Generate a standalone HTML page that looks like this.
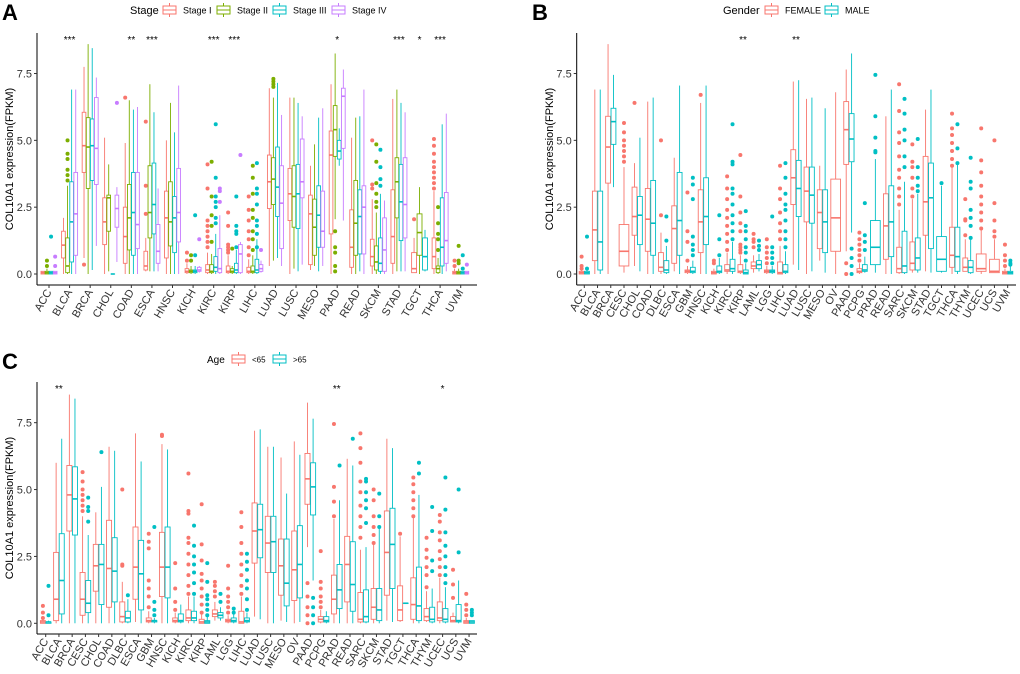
<!DOCTYPE html>
<html><head><meta charset="utf-8"><style>
html,body{margin:0;padding:0;background:#fff}
svg{display:block;font-family:"Liberation Sans",sans-serif}
</style></head><body>
<svg id="c" width="1020" height="674" viewBox="0 0 1020 674"></svg>
<script>
// ---------- Panel A data (Stage) ----------
const catsA=["ACC","BLCA","BRCA","CHOL","COAD","ESCA","HNSC","KICH","KIRC","KIRP","LIHC","LUAD","LUSC","MESO","PAAD","READ","SKCM","STAD","TGCT","THCA","UVM"];
const stageI=[[0,0,.05,.1,.1],[0,.6,1.08,1.6,2.1],[.6,3.8,4.8,6.05,7.75],[0,1.1,1.95,2.85,5.1],[0,.4,1.4,2.5,4.9],[.1,.15,.3,.85,1.35],[0,.6,2.1,3.1,5],[0,.05,.1,.2,.4],[0,.05,.15,.35,.8],[0,.05,.1,.3,.7],[0,.05,.1,.25,.55],[.3,2.45,3.45,4.45,6.95],[0,2,3,3.95,6.6],[.15,.35,2.25,2.95,4.05],[0,1.5,4.45,5.35,7.1],[0,.25,1,2.4,5.1],[0,.3,.65,1.3,2.8],[0,.4,1.4,3.15,6.55],[.05,.05,.2,.8,1.35],[0,.2,.65,1.35,3.1],[0,0,.05,.1,.2]];
const stageII=[[0,0,.05,.1,.2],[0,.05,.3,1.35,3.3],[0,3.2,4.75,5.85,8.6],[.1,1.6,2.85,2.95,4.1],[0,.9,2.1,3.35,6.5],[.1,1.35,2.3,4.05,7.1],[0,1.05,1.95,3.45,6.4],[0,.05,.1,.15,.3],[0,.05,.1,.35,.75],[0,.05,.1,.2,.3],[0,.05,.1,.3,.7],[.5,2.6,3.55,4.35,6.6],[.2,1.75,2.9,4.05,6.6],[.3,.7,1.75,2.8,4.85],[2.05,4.4,5.4,6.3,8.25],[0,.7,1.9,3.5,5.85],[0,.15,.45,1.05,2.3],[.1,2.1,3.45,4.35,6.9],[0,.7,1.55,2.25,3.25],[0,.05,.2,.3,.6],[0,0,.05,.1,.2]];
const stageIII=[[0,0,.05,.1,.1],[0,.45,1.95,3.45,6.9],[.15,3.5,4.8,5.8,8.45],[0,0,0,0,0],[0,.7,2.3,3.8,6.15],[.1,1.5,2.6,4.15,6.05],[0,.8,2.1,2.9,5.3],[0,.05,.1,.15,.3],[0,.1,.25,.65,1.5],[0,.05,.15,.4,.9],[0,.05,.15,.55,1.3],[.6,2.15,3.25,4.75,7.15],[.1,1.7,3,4.1,6.4],[.1,1,2.2,3.3,5.85],[4.05,4.3,4.6,5,5.45],[.1,.75,2.15,3.15,5.9],[0,.1,.4,1.35,3],[.1,1.25,2.7,4.1,6.4],[.1,.15,.65,1.35,1.65],[0,.3,1,2.85,5.6],[0,0,.05,.1,.1]];
const stageIV=[[0,0,.05,.1,.1],[0,.7,2.25,3.8,6.9],[1.05,3.35,4.7,6.6,7.35],[.45,1.75,2.45,2.95,3.25],[0,.95,1.85,3.8,6.25],[.1,.4,.85,1.85,3.2],[0,1.2,2.3,3.95,7.05],[.05,.1,.15,.25,.3],[0,.05,.2,.95,2.2],[0,.05,.75,1.1,1.2],[.05,.1,.2,.35,.5],[.3,.95,2.65,4.05,5.95],[.35,2.85,3.45,5.05,5.9],[.3,1,1.6,3.1,6.2],[2,4.7,6.65,6.95,7.65],[0,.75,2.5,3.3,6.9],[0,.1,.9,2.1,2.75],[.1,1.35,2.6,4.35,6.05],null,[.1,.4,1.25,3.05,6],[0,0,.05,.1,.1]];
const outI=[[],[],[.35],[],[6.6],[2.25,3.3,5.7],[],[.5,.8],[1,1.2,1.4,1.6,1.8,2,3.2,4.1],[.8,.9,1,1.1,1.8,2.3],[.7,1,1.3,1.6,2,2.4,2.9],[],[],[],[],[],[3.2,3.35,5],[],[2.05],[3.2,3.4,3.6,3.8,4,4.2,4.5,4.8,5.05],[.3,.5]];
const outII=[[.3,.5],[3.5,3.7,3.9,4.3,4.5,5],[],[],[],[],[],[.5,.7],[1.2,1.8,2.2,2.9,4.2],[.95],[.9,1.3,1.6,2.1,2.4,3,3.6,4.05],[7,7.1,7.2,7.3],[],[],[.1,.3,.8,1,1.6],[],[2.5,2.7,3,3.4,4.2,4.85],[],[],[.9,1.3,1.5,1.9,2.5],[.4,.5,1.05]];
const outIII=[[1.4],[],[],[],[],[],[],[.7,2.2],[1.9,2.1,2.5,2.7,2.9,3.6,5.6],[1,1.5,1.6,1.8,2.9],[1,1.5,1.8,2,2.6,3,3.2,4.15],[],[],[],[],[],[3.3,3.55,4,4.65],[],[],[],[.2,.7]];
const outIV=[[.3,.65],[],[],[6.4],[],[],[],[1.3],[2.7,3.1,3.2],[4.45],[.9],[],[],[],[],[],[],[],[],[],[.35]];
const sigA=["","***","","","**","***","","","***","***","","","","","*","","","***","*","***",""];

// ---------- Panel B data (Gender) ----------
const catsB=["ACC","BLCA","BRCA","CESC","CHOL","COAD","DLBC","ESCA","GBM","HNSC","KICH","KIRC","KIRP","LAML","LGG","LIHC","LUAD","LUSC","MESO","OV","PAAD","PCPG","PRAD","READ","SARC","SKCM","STAD","TGCT","THCA","THYM","UCEC","UCS","UVM"];
const female=[[0,0,.05,.1,.15],[0,.5,1.65,3.1,6.9],[0,3.4,4.75,5.9,8.6],[.05,.3,.85,1.85,4],[.3,1.45,2.15,3.25,4.15],[0,.85,2.05,3.2,6.45],[0,.1,.25,.8,1.55],[.1,.4,1.7,2.55,4.35],[0,.05,.1,.15,.3],[0,.8,1.95,3.15,6.4],[0,0,.05,.1,.2],[0,.1,.15,.35,.8],[0,.05,.1,.35,.7],[.05,.2,.3,.45,.7],[0,.05,.1,.15,.3],[0,0,.05,.45,1.05],[.35,2.6,3.6,4.65,7.2],[0,1.95,3.1,4,6.55],[.5,.95,2.3,3.15,4.05],[0,.85,2.1,3.55,6.8],[.85,4.1,5.4,6.45,7.65],[0,.05,.1,.2,.4],null,[0,.55,1.8,3,5.9],[0,.05,.2,1,2.4],[.05,.15,.4,1.2,2.8],[.1,1.45,2.7,4.4,6.15],null,[0,.25,.7,1.75,4],[.1,.1,.25,.6,1.3],[0,.1,.2,.75,1.65],[.05,.05,.1,.55,1.3],[0,0,.05,.1,.2]];
const male=[[0,0,.05,.1,.15],[0,.15,1.2,3.1,6.9],[3.25,4.85,5.7,6.2,7.45],null,[.1,1.1,2.2,2.9,5.1],[0,.7,1.9,3.5,6.6],[0,.05,.15,.5,1.05],[0,.7,2,3.8,7.05],[0,.05,.1,.25,.5],[0,1.1,2.15,3.6,7.05],[0,.05,.1,.3,.6],[0,.1,.2,.55,1.2],[0,0,.05,.15,.4],[.1,.2,.35,.5,.75],[0,.05,.1,.15,.3],[0,.05,.1,.35,.85],[.15,2.15,3.2,4.25,7.25],[.1,1.9,2.95,4,6.6],[.05,.8,1.95,3.15,6.2],null,[1.55,4.2,5.05,6,8.25],[.05,.1,.15,.35,.65],[.05,.35,1,2,4.3],[0,.65,1.95,3.3,6.9],[0,.05,.3,1.6,3.45],[.05,.15,.6,1.35,3],[.05,.95,2.85,4.15,6.9],[.05,.1,.55,1.4,3.3],[0,.1,.65,1.75,4.1],[0,.05,.25,.5,1.3],null,null,[0,0,.05,.1,.3]];
const outF=[[.2,.3,.65],[],[],[4.2,4.4,4.6,4.8,5,5.3,5.65],[6.4],[],[2.2,5],[],[.5,1.2,1.6,3.05],[6.7],[.4,.5],[.9,1.2,1.5,1.8,2.1,2.4,2.8,3.2,3.65],[.8,.9,1,1.1,1.6,1.9,2.3,2.9,4.45],[1,1.2,1.3,1.5],[.4,.6,.8,1,1.3],[1.3,1.6,1.9,2.3,2.8,3.2,4.05],[],[],[],[],[0,.4],[.5,.7,.9,1.1,1.3,1.55],[],[],[2.6,2.9,3.2,3.6,3.9,4.4,4.9,5.3,6.1,7.1],[2.9,3.2,3.6,4,4.2,4.85],[],[],[4.05,4.3,4.6,4.9,5.2,5.45,6],[1.45,2,2.05,2.8],[1.7,2,2.3,2.6,2.9,3.3,3.8,4.25,5.45],[1.4,1.6,2,2.65,5],[.3,.5,.7,1.1]];
const outM=[[.2,1.4],[],[],[],[],[],[1.25,2.15],[],[.7,.9,1.1,1.4,2.8,3.35,3.6],[],[.7,1.3,2.2],[1.3,1.6,1.9,2.2,2.6,3,3.2,4.1,4.2,5.6],[.5,.8,1,1.3,1.6,1.8,2.35],[.9,1.05,1.25],[.4,.6,.8,1,2.15],[1,1.3,1.6,2,2.4,2.6,3,3.6,4.15],[],[],[],[],[0,.3,.6,.95],[.9,1.2,1.45,2.65],[4.55,4.6,5.1,5.9,7.45],[],[4,4.4,5,5.4,6,6.55],[3.1,3.3,3.6,4,5.05],[],[3.4],[4.15,4.7,5.6],[1.35,1.8,2.1,2.4,3.2,3.45,4.35],[],[],[.35,.4,.5]];
const sigB=catsB.map(c=>(c==="KIRP"||c==="LUAD")?"**":"");

// ---------- Panel C data (Age) ----------
const catsC=catsB;
const young=[[0,0,.05,.1,.15],[0,.1,.9,2.65,6],[0,3.45,4.8,5.9,8.55],[0,.3,.9,1.9,4],[0,1.2,2.15,2.95,4.15],[0,.6,2.05,3.85,6.6],[0,.05,.25,.8,1.55],[.05,.9,2.1,3.6,7.1],[0,.05,.1,.2,.45],[0,1,2.1,3.4,6.7],[0,.05,.1,.2,.4],[0,.1,.2,.5,1],[0,0,.05,.15,.35],[.1,.25,.35,.5,.8],[0,.05,.1,.15,.3],[0,0,.05,.45,1],[.25,2.25,3.45,4.5,7.2],[0,1.9,3,4,6.6],[.1,1.05,2.15,3.15,6.2],[0,.85,2,3.45,6.8],[2.85,4.45,5.4,6.35,8.25],[0,.05,.15,.25,.5],[0,.35,.9,1.8,3.9],[0,.8,2.2,3.25,6.15],[0,.05,.15,1.15,2.75],[0,.15,.6,1.3,2.95],[.1,1.05,2.65,4.2,6.9],[.05,.1,.5,1.4,3.25],[0,.15,.7,1.7,3.95],[.05,.1,.25,.55,1.2],[0,.1,.2,.8,1.7],[.05,.05,.1,.25,.4],[0,0,.05,.1,.2]];
const old=[[0,0,.05,.05,.1],[0,.35,1.6,3.35,6.9],[0,3.3,4.65,5.85,8.4],[0,.4,.75,1.6,3.3],[0,.7,2.2,2.95,5.1],[0,.8,1.95,3.2,6.45],[0,.05,.2,.45,.9],[0,.5,1.85,3.1,6.05],[0,.05,.1,.1,.2],[0,.95,2.1,3.6,6.5],[0,.05,.1,.35,.7],[0,.1,.2,.45,1],[0,0,.05,.1,.25],[.1,.2,.3,.4,.6],[0,.05,.1,.2,.35],[0,.05,.1,.2,.4],[.15,2.45,3.5,4.45,7.25],[0,1.9,3.05,4,6.6],[.05,.65,1.5,3.15,4.85],[.05,.95,2.2,3.65,6.3],[1.6,4.05,5.1,6,7.65],[0,.05,.1,.25,.45],[0,.55,1.25,2.2,4.6],[0,.45,1.45,3.05,5.9],[0,.05,.25,1.25,2.85],[0,.1,.5,1.3,3.55],[.05,1.3,2.95,4.3,6.55],[.75,.75,.75,.75,.75],[0,.1,.65,2.1,4.8],[0,.05,.15,.6,1.3],[0,.05,.15,.55,1.35],[0,.05,.1,.7,1.6],[0,0,.05,.1,.1]];
const outY=[[.2,.4,.65],[],[],[4.2,4.4,4.6,4.8,5,5.3,5.65],[],[],[2.15,2.2,5],[],[.6,1,1.3,1.6,2.8,3.05,3.35],[7,7.05],[.5,.8,1.3,2.25],[1.1,1.4,1.8,2.2,2.6,3,3.2,4.1,4.2,5.6],[.4,.7,1,1.3,1.6,1.85,2.35,2.95,4.45],[1,1.2,1.4,1.55],[.4,.6,.8,1,1.3,2.15],[1.1,1.4,1.8,2.2,2.6,3,3.6,4.15],[],[],[],[],[0,.3,.6,1,1.5],[.6,.8,1,1.3,1.55,2.7],[4,4.55,5.1,7.45],[],[3.2,3.6,4,4.4,4.9,5.3,6,6.55,7.1],[3,3.3,3.6,4,4.6,5],[],[3.35],[4,4.3,4.6,4.9,5.2,5.45],[1.35,1.8,2.1,2.45,2.75,3.2],[1.8,2.1,2.4,2.7,3.1,3.4,3.8,4.05],[.95,1.45,2],[.3,.5,.7,1.1]];
const outO=[[.3,1.4],[],[],[3.8,4.2,4.35,4.7],[6.4],[],[1.05],[],[.3,.5,.8,3.6],[],[],[1.1,1.5,1.9,2.2,2.5,2.9,3.65],[.3,.5,.7,.9,1.05,1.55,2.25],[.8,1.1],[.4,.55],[.5,.9,1.3,1.6,2,2.3,2.6],[],[],[],[],[0,.3,.6,.95],[],[5.9],[6.9],[3.75,4.3,4.6,4.9,5.3,5.4],[3.6,4,4.85],[],[],[5.6,6],[1.95,2.35,3.45,4.35],[1.5,1.8,2.1,2.5,2.9,3.4,4.25,5.45],[2.65,5],[.3,.4,.5]];
const sigC=catsC.map(c=>c==="BLCA"||c==="PRAD"?"**":(c==="UCEC"?"*":""));

const NS="http://www.w3.org/2000/svg";
const svg=document.getElementById('c');
function mk(tag,attrs,parent,txt){const e=document.createElementNS(NS,tag);for(const k in attrs)e.setAttribute(k,attrs[k]);if(txt!==undefined)e.textContent=txt;(parent||svg).appendChild(e);return e;}

function panel(cfg){
  const g=mk('g',{});
  
  
  const y=v=>cfg.zeroY-v*cfg.ppu;
  const x=i=>cfg.first+i*cfg.step;
  const ax=mk('line',{x1:cfg.axisX,x2:cfg.axisX,y1:cfg.top,y2:cfg.bottom,stroke:'#000','stroke-width':1},g);
  
  const bx=mk('line',{x1:cfg.axisX,x2:cfg.right,y1:cfg.bottom,y2:cfg.bottom,stroke:'#000','stroke-width':1},g);
  
  [0,2.5,5,7.5].forEach(v=>{
    mk('line',{x1:cfg.axisX-3,x2:cfg.axisX,y1:y(v),y2:y(v),stroke:'#333'},g);
    const t=mk('text',{x:cfg.axisX-5,y:y(v)+4,'text-anchor':'end','font-size':11,fill:'#333'},g,v.toFixed(1));
    
  });
  const yt=mk('text',{transform:`translate(${cfg.ytX},${(cfg.top+cfg.bottom)/2}) rotate(-90)`,'text-anchor':'middle','font-size':11,fill:'#000'},g,'COL10A1 expression(FPKM)');
  
  cfg.cats.forEach((c,i)=>{
    mk('line',{x1:x(i),x2:x(i),y1:cfg.bottom,y2:cfg.bottom+3,stroke:'#333'},g);
    const t=mk('text',{transform:`translate(${x(i)+3},${cfg.bottom+7}) rotate(-60)`,'text-anchor':'end','font-size':11,fill:'#333'},g,c);
    
    if(cfg.sig[i]){const s=mk('text',{x:x(i),y:cfg.sigY,'text-anchor':'middle','font-size':10,fill:'#000'},g,cfg.sig[i]);
      }
    const present=cfg.series.map((s,k)=>s[i]?k:-1).filter(k=>k>=0);
    const n=present.length, W=cfg.spacing*cfg.series.length, slot=W/n;
    present.forEach((k,j)=>{
      const st=cfg.series[k][i], col=cfg.colors[k];
      const cx=x(i)-W/2+slot*(j+0.5), bw=slot*0.9;
      const bg=mk('g',{},g);
      
      
      mk('line',{x1:cx,x2:cx,y1:y(st[0]),y2:y(st[1]),stroke:col,'stroke-width':0.9},bg);
      mk('line',{x1:cx,x2:cx,y1:y(st[3]),y2:y(st[4]),stroke:col,'stroke-width':0.9},bg);
      mk('rect',{x:cx-bw/2,y:y(st[3]),width:bw,height:Math.max(0.01,y(st[1])-y(st[3])),fill:'#fff',stroke:col,'stroke-width':0.9},bg);
      mk('line',{x1:cx-bw/2,x2:cx+bw/2,y1:y(st[2]),y2:y(st[2]),stroke:col,'stroke-width':1.6},bg);
      (cfg.outs[k][i]||[]).forEach(v=>{
        const p=mk('circle',{cx:cx,cy:y(v),r:2,fill:col},bg);
        
      });
    });
  });
  const lg=mk('g',{},g);
  
  const tt=mk('text',{x:cfg.leg.x,y:cfg.leg.y+4,'font-size':cfg.leg.fs+2,fill:'#000'},lg,cfg.leg.title);
  
  cfg.leg.keys.forEach((kx,k)=>{
    const e=mk('g',{},lg);
    
    const col=cfg.colors[k],cy=cfg.leg.y;
    mk('line',{x1:kx+6.5,x2:kx+6.5,y1:cy-7,y2:cy+7,stroke:col},e);
    mk('rect',{x:kx,y:cy-4,width:13,height:8,fill:'#fff',stroke:col},e);
    mk('line',{x1:kx,x2:kx+13,y1:cy,y2:cy,stroke:col},e);
    mk('text',{x:kx+20,y:cy+3.5,'font-size':cfg.leg.fs,fill:'#000'},e,cfg.leg.labels[k]);
  });
  const L=mk('text',{x:cfg.letter[0],y:cfg.letter[1],'font-size':22,'font-weight':'bold',fill:'#000'},g,cfg.letterT);
  
}

panel({name:'panel-a-stage',cats:catsA,series:[stageI,stageII,stageIII,stageIV],outs:[outI,outII,outIII,outIV],keys:['stage-i','stage-ii','stage-iii','stage-iv'],
  colors:['#F8766D','#7CAE00','#00BFC4','#C77CFF'],sig:sigA,axisX:37,right:477,top:33,bottom:285,zeroY:274,ppu:26.73,first:49,step:20.585,spacing:4.1,sigY:43,ytX:13,
  leg:{x:130,y:10,fs:9,title:'Stage',keys:[163,217,273,332],labels:['Stage I','Stage II','Stage III','Stage IV']},letter:[2,20],letterT:'A'});
panel({name:'panel-b-gender',cats:catsB,series:[female,male],outs:[outF,outM],keys:['female','male'],
  colors:['#F8766D','#00BFC4'],sig:sigB,axisX:576.7,right:1016,top:33,bottom:285,zeroY:274,ppu:26.73,first:584.3,step:13.23,spacing:5.4,sigY:43,ytX:553,
  leg:{x:723,y:10,fs:9,title:'Gender',keys:[765,825],labels:['FEMALE','MALE']},letter:[532,20],letterT:'B'});
panel({name:'panel-c-age',cats:catsC,series:[young,old],outs:[outY,outO],keys:['under-65','over-65'],
  colors:['#F8766D','#00BFC4'],sig:sigC,axisX:37,right:477,top:382,bottom:634,zeroY:623.3,ppu:26.75,first:45.7,step:13.23,spacing:5.6,sigY:392,ytX:13,
  leg:{x:207,y:359,fs:8,title:'Age',keys:[232,273],labels:['<65','>65']},letter:[2,369],letterT:'C'});
</script>
</body></html>
